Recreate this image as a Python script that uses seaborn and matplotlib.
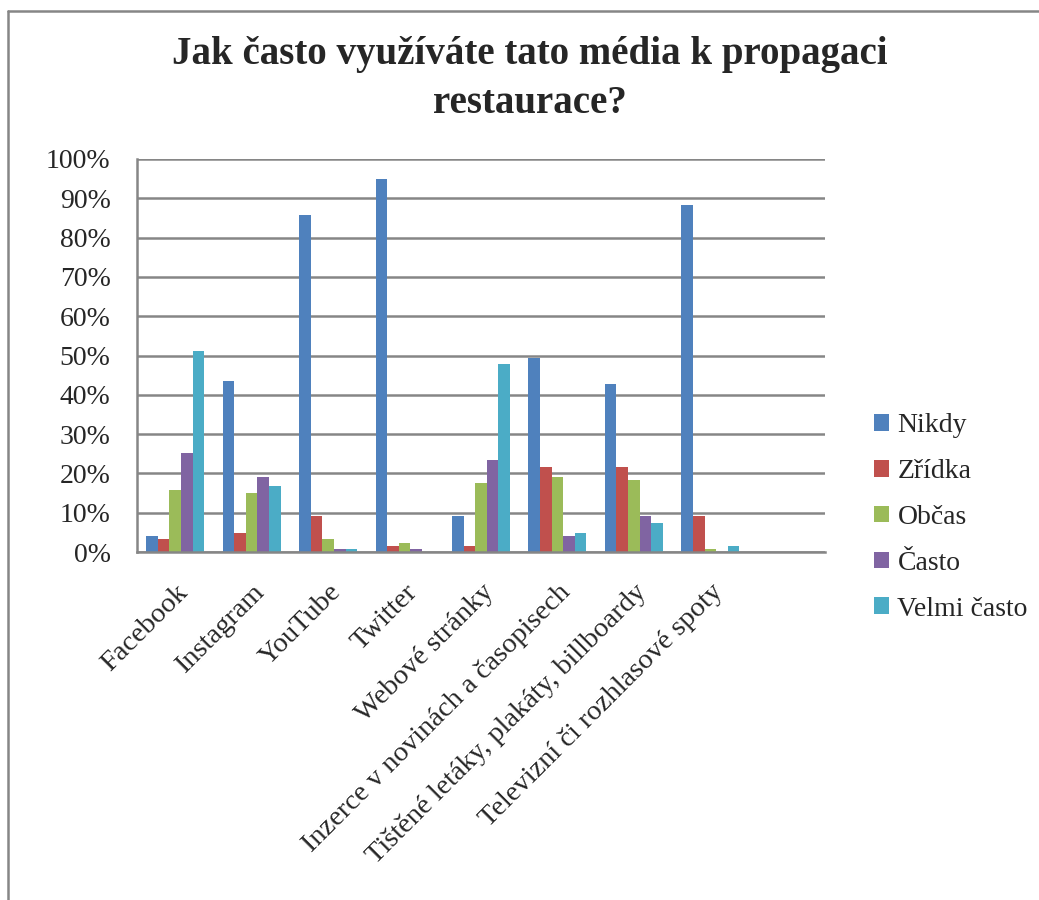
import matplotlib
matplotlib.use("Agg")
import matplotlib.pyplot as plt
import seaborn as sns
import pandas as pd
from matplotlib.lines import Line2D
from matplotlib.ticker import FuncFormatter

categories = ["Facebook", "Instagram", "YouTube", "Twitter", "Webové stránky",
              "Inzerce v novinách a časopisech", "Tištěné letáky, plakáty, billboardy",
              "Televizní či rozhlasové spoty"]
series = ["Nikdy", "Zřídka", "Občas", "Často", "Velmi často"]
nikdy = [4.1, 43.6, 85.8, 95.0, 9.1, 49.4, 42.7, 88.3]
zridka = [3.2, 4.8, 9.1, 1.4, 1.4, 21.6, 21.6, 9.1]
obcas = [15.8, 14.9, 3.2, 2.3, 17.5, 19.1, 18.3, 0.7]
casto = [25.1, 19.2, 0.7, 0.7, 23.3, 4.0, 9.1, 0.0]
velmi = [51.2, 16.7, 0.7, 0.0, 47.8, 4.8, 7.5, 1.4]
colors = ["#4F81BD", "#C0504D", "#9BBB59", "#8064A2", "#4BACC6"]
title = "Jak často využíváte tato média k propagaci\nrestaurace?"

values = [nikdy, zridka, obcas, casto, velmi]
rows = []
for s, vals in zip(series, values):
    for c, v in zip(categories, vals):
        rows.append({"kategorie": c, "serie": s, "hodnota": v})
df = pd.DataFrame(rows)

sns.set_theme(style="white")
plt.rcParams["font.family"] = ["Liberation Serif", "DejaVu Serif"]

fig = plt.figure(figsize=(10.39, 9), dpi=100)
ax = fig.add_axes([137/1039, 1 - 552/900, (825-137)/1039, (552-159)/900])

sns.barplot(data=df, x="kategorie", y="hodnota", hue="serie", order=categories,
            hue_order=series, palette=colors, saturation=1, width=0.76,
            ax=ax, errorbar=None, edgecolor="none", linewidth=0)

ax.set_ylim(0, 100)
ax.set_yticks(range(0, 101, 10))
ax.yaxis.set_major_formatter(FuncFormatter(lambda v, p: f"{int(v)}%"))
ax.set_xlim(-0.5, len(categories) + 0.5)
ax.grid(axis="y", color="#868686", linewidth=1.8)
ax.set_axisbelow(True)
for side in ["top", "right"]:
    ax.spines[side].set_visible(False)
for side in ["left", "bottom"]:
    ax.spines[side].set_color("#868686")
    ax.spines[side].set_linewidth(1.8)
ax.tick_params(axis="y", labelsize=20, length=0, pad=19)
ax.tick_params(axis="x", labelsize=20.5, length=0, pad=20)
ax.set_xlabel("")
ax.set_ylabel("")
plt.setp(ax.get_xticklabels(), rotation=45, ha="right", rotation_mode="anchor")

leg = ax.legend(loc="center left", bbox_to_anchor=(1.071, 0.088), frameon=False,
                fontsize=20, handlelength=0.55, handleheight=0.55, handletextpad=0.3,
                labelspacing=0.75, borderaxespad=0, borderpad=0)

fig.text(530/1039, 1 - 79/900, title, ha="center", va="center", fontsize=28,
         fontweight="bold", linespacing=1.45)

fig.add_artist(Line2D([8/1039, 8/1039], [0, 1 - 11/900], transform=fig.transFigure,
                      color="#868686", linewidth=1.8))
fig.add_artist(Line2D([8/1039, 1], [1 - 11/900, 1 - 11/900], transform=fig.transFigure,
                      color="#868686", linewidth=1.8))

fig.savefig("out.png", dpi=100)
